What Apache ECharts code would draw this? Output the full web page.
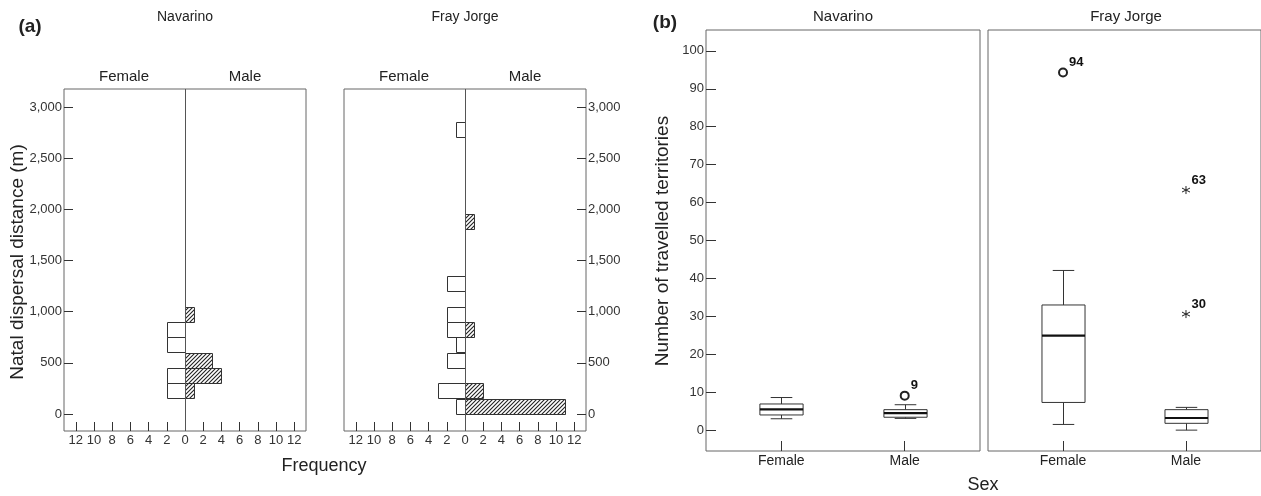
<!DOCTYPE html>
<html>
<head>
<meta charset="utf-8">
<script src="https://cdn.jsdelivr.net/npm/echarts@6/dist/echarts.min.js"></script>
<style>
html,body{margin:0;padding:0;background:#fff;}
#chart{width:1261px;height:496px;}
</style>
</head>
<body>
<div id="chart"></div>
<script>
// ---------------- DATA ----------------
const binWidth = 150; // metres per histogram bin
const frequencyTickValues = [-12, -10, -8, -6, -4, -2, 0, 2, 4, 6, 8, 10, 12];
const distanceTickValues = [0, 500, 1000, 1500, 2000, 2500, 3000];
const distanceTicks = ['0', '500', '1,000', '1,500', '2,000', '2,500', '3,000'];
const countTickValues = [0, 10, 20, 30, 40, 50, 60, 70, 80, 90, 100];
const sexCategories = ['Female', 'Male'];
const sites = ['Navarino', 'Fray Jorge'];

// Histogram (a): bin start (m) and count
const navarinoFemaleBins = [150, 300, 600, 750];
const navarinoFemaleCounts = [2, 2, 2, 2];
const navarinoMaleBins = [150, 300, 450, 900];
const navarinoMaleCounts = [1, 4, 3, 1];
const frayFemaleBins = [0, 150, 450, 600, 750, 900, 1200, 2700];
const frayFemaleCounts = [1, 3, 2, 1, 2, 2, 2, 1];
const frayMaleBins = [0, 150, 750, 1800];
const frayMaleCounts = [11, 2, 1, 1];

// Boxplots (b): [categoryIndex, min, Q1, median, Q3, max]
const navarinoBoxStats = [[1, 3.0, 4.0, 5.5, 6.9, 8.6], [2, 3.1, 3.4, 4.5, 5.4, 6.7]];
const frayBoxStats = [[1, 1.5, 7.3, 24.9, 33.0, 42.1], [2, 0.0, 1.8, 3.2, 5.4, 6.0]];
// outliers: [categoryIndex, value, case label]
const navarinoOutliers = [[2, 9.1, '9']];
const frayOutliers = [[1, 94.3, '94']];
const frayExtremes = [[2, 63.3, '63'], [2, 30.6, '30']];

// ---------------- HELPERS ----------------
const FONT = '"Liberation Sans", Arial, sans-serif';
const TXT = '#222';
const hatch = document.createElement('canvas');
hatch.width = 4; hatch.height = 4;
(function () {
  const g = hatch.getContext('2d');
  g.fillStyle = '#fff'; g.fillRect(0, 0, 4, 4);
  g.strokeStyle = '#222'; g.lineWidth = 1.1;
  g.beginPath();
  g.moveTo(0, 4); g.lineTo(4, 0);
  g.moveTo(-1, 1); g.lineTo(1, -1);
  g.moveTo(3, 5); g.lineTo(5, 3);
  g.stroke();
})();

function histData(bins, counts, sign) {
  return bins.map((b, i) => [sign * counts[i], b, b + binWidth]);
}
function histItem(hatched) {
  return function (params, api) {
    const c = api.value(0), y0 = api.value(1), y1 = api.value(2);
    const p0 = api.coord([0, y0]), p1 = api.coord([c, y1]);
    return {
      type: 'rect',
      shape: {
        x: Math.round(Math.min(p0[0], p1[0])) + 0.5,
        y: Math.round(Math.min(p0[1], p1[1])) + 0.5,
        width: Math.round(Math.abs(p1[0] - p0[0])),
        height: Math.round(Math.abs(p1[1] - p0[1]))
      },
      style: {
        fill: hatched ? { image: hatch, repeat: 'repeat' } : '#fff',
        stroke: '#333', lineWidth: 1
      }
    };
  };
}
const BOX_W = 0.35;
function boxItem(params, api) {
  const x = api.value(0);
  const v = [1, 2, 3, 4, 5].map(i => api.value(i));
  const pts = v.map(val => api.coord([x, val]));
  const cx = Math.round(pts[0][0]) + 0.5;
  const half = api.size([BOX_W, 0])[0] / 2;
  const cap = half / 2;
  const y = pts.map(p => p[1]);
  const st = { stroke: '#333', lineWidth: 1, fill: null };
  return {
    type: 'group',
    children: [
      { type: 'line', shape: { x1: cx, y1: y[4], x2: cx, y2: y[3] }, style: st },
      { type: 'line', shape: { x1: cx, y1: y[0], x2: cx, y2: y[1] }, style: st },
      { type: 'line', shape: { x1: cx - cap, y1: y[4], x2: cx + cap, y2: y[4] }, style: st },
      { type: 'line', shape: { x1: cx - cap, y1: y[0], x2: cx + cap, y2: y[0] }, style: st },
      { type: 'rect', shape: { x: cx - half, y: y[3], width: half * 2, height: y[1] - y[3] },
        style: { stroke: '#333', lineWidth: 1, fill: '#fff' } },
      { type: 'line', shape: { x1: cx - half, y1: y[2], x2: cx + half, y2: y[2] },
        style: { stroke: '#111', lineWidth: 2.2 } }
    ]
  };
}

// ---------------- AXES ----------------
const gridStyle = { show: true, borderColor: '#666', borderWidth: 1, backgroundColor: 'transparent' };
const grids = [
  Object.assign({ left: 64, top: 89, width: 242, height: 342 }, gridStyle),
  Object.assign({ left: 344, top: 89, width: 242, height: 342 }, gridStyle),
  Object.assign({ left: 706, top: 30, width: 274, height: 421 }, gridStyle),
  Object.assign({ left: 988, top: 30, width: 274, height: 421 }, gridStyle)
];
const hiddenLine = { show: false, onZero: false };
function freqAxis(gi) {
  return {
    type: 'value', gridIndex: gi, min: -13.3, max: 13.3, position: 'bottom',
    axisLine: hiddenLine, splitLine: { show: false },
    axisTick: { inside: true, length: 9, customValues: frequencyTickValues, lineStyle: { color: '#333' } },
    axisLabel: {
      margin: 3, fontSize: 13, fontFamily: FONT, color: '#333', customValues: frequencyTickValues,
      formatter: v => String(Math.abs(Math.round(v)))
    }
  };
}
function distAxis(gi, pos) {
  return {
    type: 'value', gridIndex: gi, min: -166, max: 3176, position: pos,
    axisLine: hiddenLine, splitLine: { show: false },
    axisTick: { inside: true, length: 9, customValues: distanceTickValues, lineStyle: { color: '#333' } },
    axisLabel: {
      margin: 2, fontSize: 13, fontFamily: FONT, color: '#333', customValues: distanceTickValues,
      formatter: v => distanceTicks[distanceTickValues.indexOf(Math.round(v))]
    }
  };
}
function sexAxis(gi) {
  return {
    type: 'value', gridIndex: gi, min: 0.39, max: 2.61, position: 'bottom',
    axisLine: hiddenLine, splitLine: { show: false },
    axisTick: { inside: true, length: 10, customValues: [1, 2], lineStyle: { color: '#333' } },
    axisLabel: {
      margin: 3, fontSize: 14, fontFamily: FONT, color: TXT, customValues: [1, 2],
      formatter: v => sexCategories[Math.round(v) - 1] || ''
    }
  };
}
function countAxis(gi, showIt) {
  return {
    type: 'value', gridIndex: gi, min: -5.5, max: 105.5, position: 'left',
    axisLine: hiddenLine, splitLine: { show: false },
    axisTick: { show: showIt, inside: true, length: 10, customValues: countTickValues, lineStyle: { color: '#333' } },
    axisLabel: {
      show: showIt, margin: 2, fontSize: 13, fontFamily: FONT, color: '#333', customValues: countTickValues,
      formatter: v => String(Math.round(v))
    }
  };
}

const centerLine = {
  silent: true, symbol: ['none', 'none'], label: { show: false },
  lineStyle: { color: '#555', type: 'solid', width: 1 },
  emphasis: { disabled: true },
  data: [{ xAxis: 0 }]
};
const outlierLabel = {
  show: true, position: 'right', distance: 1, offset: [0, -10],
  fontSize: 13, fontWeight: 'bold', fontFamily: FONT, color: '#111',
  formatter: p => p.value[2]
};

// ---------------- TEXTS ----------------
function txt(x, y, s, size, extra) {
  return Object.assign({
    type: 'text', x: x, y: y, silent: true,
    style: Object.assign({ text: s, fontSize: size, fontFamily: FONT, fill: TXT, align: 'center', verticalAlign: 'middle' }, (extra && extra.style) || {})
  }, extra && extra.rotation !== undefined ? { rotation: extra.rotation } : {});
}
const graphics = [
  txt(30, 27, '(a)', 19, { style: { fontWeight: 'bold' } }),
  txt(665, 23, '(b)', 19, { style: { fontWeight: 'bold' } }),
  txt(185, 17, sites[0], 14),
  txt(465, 17, sites[1], 14),
  txt(843, 17, sites[0], 15),
  txt(1126, 17, sites[1], 15),
  txt(124, 77, sexCategories[0], 15),
  txt(245, 77, sexCategories[1], 15),
  txt(404, 77, sexCategories[0], 15),
  txt(525, 77, sexCategories[1], 15),
  txt(18, 262, 'Natal dispersal distance (m)', 19, { rotation: Math.PI / 2 }),
  txt(663, 241, 'Number of travelled territories', 19, { rotation: Math.PI / 2 }),
  txt(324, 466, 'Frequency', 18),
  txt(983, 485, 'Sex', 18)
];

// ---------------- CHART ----------------
const chart = echarts.init(document.getElementById('chart'), null, { renderer: 'canvas' });
const symStyle = { color: '#222', borderColor: '#222', borderWidth: 1, opacity: 1 };
chart.setOption({
  animation: false,
  backgroundColor: '#fff',
  grid: grids,
  xAxis: [freqAxis(0), freqAxis(1), sexAxis(2), sexAxis(3)],
  yAxis: [distAxis(0, 'left'), distAxis(1, 'right'), countAxis(2, true), countAxis(3, false)],
  graphic: graphics,
  series: [
    { type: 'custom', xAxisIndex: 0, yAxisIndex: 0, renderItem: histItem(false),
      data: histData(navarinoFemaleBins, navarinoFemaleCounts, -1), markLine: centerLine },
    { type: 'custom', xAxisIndex: 0, yAxisIndex: 0, renderItem: histItem(true),
      data: histData(navarinoMaleBins, navarinoMaleCounts, 1) },
    { type: 'custom', xAxisIndex: 1, yAxisIndex: 1, renderItem: histItem(false),
      data: histData(frayFemaleBins, frayFemaleCounts, -1), markLine: centerLine },
    { type: 'custom', xAxisIndex: 1, yAxisIndex: 1, renderItem: histItem(true),
      data: histData(frayMaleBins, frayMaleCounts, 1) },
    { type: 'custom', xAxisIndex: 2, yAxisIndex: 2, renderItem: boxItem, data: navarinoBoxStats,
      encode: { x: 0, y: [1, 2, 3, 4, 5] } },
    { type: 'custom', xAxisIndex: 3, yAxisIndex: 3, renderItem: boxItem, data: frayBoxStats,
      encode: { x: 0, y: [1, 2, 3, 4, 5] } },
    { type: 'scatter', xAxisIndex: 2, yAxisIndex: 2, data: navarinoOutliers, symbol: 'emptyCircle', symbolSize: 8,
      itemStyle: symStyle, label: outlierLabel },
    { type: 'scatter', xAxisIndex: 3, yAxisIndex: 3, data: frayOutliers, symbol: 'emptyCircle', symbolSize: 8,
      itemStyle: symStyle, label: outlierLabel },
    { type: 'scatter', xAxisIndex: 3, yAxisIndex: 3, data: frayExtremes,
      symbol: 'path://M5,0L5,10M0.7,2.5L9.3,7.5M0.7,7.5L9.3,2.5', symbolSize: 8,
      itemStyle: { color: 'rgba(0,0,0,0)', borderColor: '#222', borderWidth: 1, opacity: 1 }, label: outlierLabel }
  ]
});
</script>
</body>
</html>
